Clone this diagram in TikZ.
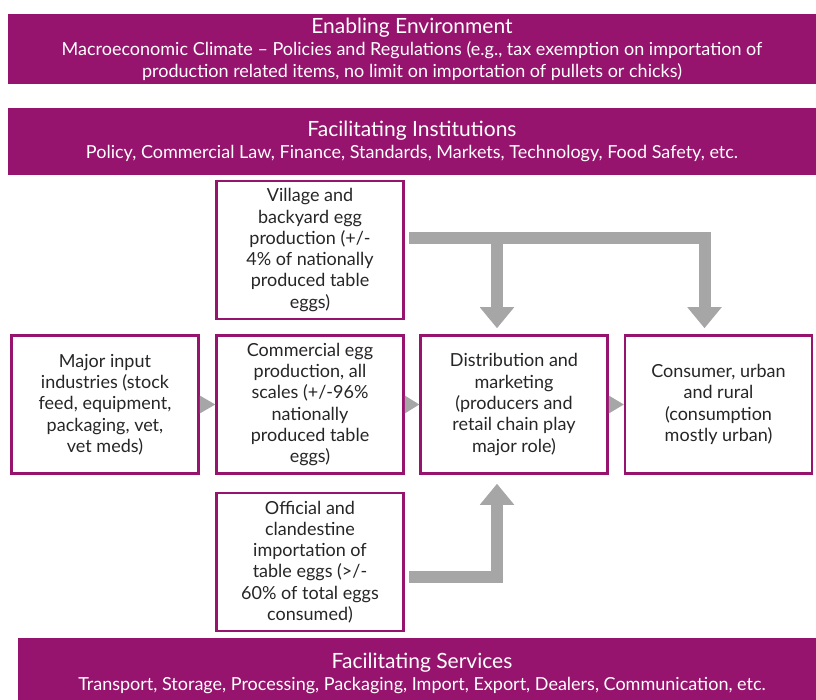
\documentclass[tikz,border=0pt]{standalone}
\usepackage{fontspec}
\setmainfont{Lato}
\usetikzlibrary{arrows.meta}

\definecolor{plum}{RGB}{150,20,110}
\definecolor{flowgrey}{RGB}{166,166,166}

\tikzset{
  banner/.style={fill=plum, text=white, minimum width=808pt, inner sep=0pt,
    align=center, font=\fontsize{18}{22}\selectfont},
  stage/.style={draw=plum, line width=2.5pt, fill=white, minimum width=187pt,
    minimum height=138pt, inner sep=0pt, align=center, text=black!85,
    font=\fontsize{18}{21.3}\selectfont},
  flow/.style={draw=flowgrey, line width=12pt, line join=miter,
    -{Triangle[width=33pt,length=21pt]}},
  nudge/.style={fill=flowgrey}
}
\newcommand{\bannertitle}[1]{{\fontsize{21}{23}\selectfont #1}}

\begin{document}
\begin{tikzpicture}[x=1pt,y=-1pt]
\useasboundingbox (0,0) rectangle (816,700);

% the three framing bands
\node[banner, minimum height=70pt] (enabling) at (412,49)
  {\bannertitle{Enabling Environment}\\
   Macroeconomic Climate -- Policies and Regulations (e.g., tax exemption on importation of\\
   production related items, no limit on importation of pullets or chicks)};
\node[banner, minimum height=67pt] (institutions) at (412,141.5)
  {\bannertitle{Facilitating Institutions}\\
   Policy, Commercial Law, Finance, Standards, Markets, Technology, Food Safety, etc.};
\node[banner, minimum height=70pt] (services) at (422,673)
  {\bannertitle{Facilitating Services}\\
   Transport, Storage, Processing, Packaging, Import, Export, Dealers, Communication, etc.};

% chain stages
\node[stage] (village) at (310,250)
  {Village and\\ backyard egg\\ production (+/-\\ 4\% of nationally\\ produced table\\ eggs)};
\node[stage] (input) at (105,404.5)
  {Major input\\ industries (stock\\ feed, equipment,\\ packaging, vet,\\ vet meds)};
\node[stage] (commercial) at (310,404.5)
  {Commercial egg\\ production, all\\ scales (+/-96\%\\ nationally\\ produced table\\ eggs)};
\node[stage] (distrib) at (514,404.5)
  {Distribution and\\ marketing\\ (producers and\\ retail chain play\\ major role)};
\node[stage] (consumer) at (718.5,404.5)
  {Consumer, urban\\ and rural\\ (consumption\\ mostly urban)};
\node[stage] (official) at (310,562)
  {Official and\\ clandestine\\ importation of\\ table eggs (>/-\\ 60\% of total eggs\\ consumed)};

% small wedges along the main row
\fill[nudge] ([yshift=9pt]input.east) -- ([yshift=-9pt]input.east) -- (commercial.west) -- cycle;
\fill[nudge] ([yshift=9pt]commercial.east) -- ([yshift=-9pt]commercial.east) -- (distrib.west) -- cycle;
\fill[nudge] ([yshift=9pt]distrib.east) -- ([yshift=-9pt]distrib.east) -- (consumer.west) -- cycle;

% thick flows
\coordinate (feed) at ([yshift=12pt]village.east);
\coordinate (drop1) at ([xshift=-17pt]distrib.north);
\coordinate (drop2) at ([xshift=-14pt]consumer.north);
\coordinate (imp) at ([yshift=-15pt]official.east);
\coordinate (rise) at ([xshift=-17pt]distrib.south);

\draw[flow, shorten <=4pt, shorten >=6pt] (feed) -| (drop2);
\draw[flow, shorten >=6pt] (drop1 |- feed) -- (drop1);
\draw[flow, shorten <=4pt, shorten >=9pt] (imp) -| (rise);
\end{tikzpicture}
\end{document}
